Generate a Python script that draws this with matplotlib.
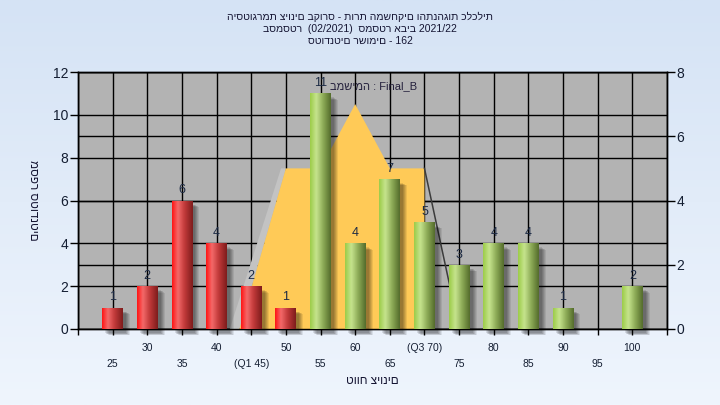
import numpy as np
import matplotlib
matplotlib.use('Agg')
import matplotlib.pyplot as plt
from matplotlib.colors import LinearSegmentedColormap
from matplotlib.transforms import blended_transform_factory
from matplotlib.patches import Rectangle
from matplotlib.ticker import FixedLocator, FixedFormatter

plt.rcParams['font.family'] = ['Liberation Sans', 'DejaVu Sans']

# ---------------- data ----------------
grades = [25, 30, 35, 40, 45, 50, 55, 60, 65, 70, 75, 80, 85, 90, 95, 100]
counts = [1, 2, 6, 4, 2, 1, 11, 4, 7, 5, 3, 4, 4, 1, 0, 2]
tick_labels = ['25', '30', '35', '40', '(Q1 45)', '50', '55', '60', '65',
               '(Q3 70)', '75', '80', '85', '90', '95', '100']
pass_grade = 55

# distribution area (secondary axis units)
area_grades = [43.3, 50, 55, 60, 65, 70, 70]
area_values = [0, 5, 5, 7, 5, 5, 0]
band_grades = [41.9, 49.3, 50, 43.3]
band_values = [0, 5, 5, 0]
tail_grades = [70, 75]
tail_values = [5, 0]

title_lines = ['היסטוגרמת ציונים בקורס - תורת המשחקים והתנהגות כלכלית',
               'בסמסטר  (02/2021)  סמסטר אביב 2021/22',
               'סטודנטים רשומים - 162']
legend_text = 'במשימה : Final_B'
x_title = 'טווח ציונים'
y_title = 'מספר סטודנטים'

# ---------------- figure ----------------
W, H = 720, 405
fig = plt.figure(figsize=(W / 100, H / 100), dpi=100)

bg = fig.add_axes([0, 0, 1, 1], zorder=-10)
bg_cmap = LinearSegmentedColormap.from_list('bg', ['#eff5fd', '#d5e3f5'])
bg.imshow(np.linspace(0, 1, 256).reshape(-1, 1)[::-1], aspect='auto',
          cmap=bg_cmap, extent=[0, 1, 0, 1])
bg.axis('off')

L, R, T, B = 78, 667, 72, 329
ax = fig.add_axes([L / W, 1 - B / H, (R - L) / W, (B - T) / H])
ax2 = ax.twinx()
ax.set_zorder(2)
ax2.set_zorder(1)
ax.patch.set_visible(False)
ax2.patch.set_visible(True)
ax2.patch.set_facecolor('#b3b3b3')

ax.set_xlim(20, 105)
ax.set_ylim(0, 12)
ax2.set_ylim(0, 8)

tick_color = '#141e32'
ax.set_yticks(range(0, 13, 2))
ax2.set_yticks(range(0, 9, 2))
ax.tick_params(axis='y', length=6, width=1, pad=1, labelsize=10, labelcolor=tick_color)
ax2.tick_params(axis='y', length=6, width=1, pad=1, labelsize=10, labelcolor=tick_color)

# x ticks: two staggered rows
bottom_row = [g for i, g in enumerate(grades) if i % 2 == 0]
bottom_lab = [t for i, t in enumerate(tick_labels) if i % 2 == 0]
top_row = [20] + [g for i, g in enumerate(grades) if i % 2 == 1] + [105]
top_lab = [''] + [t for i, t in enumerate(tick_labels) if i % 2 == 1] + ['']
ax.xaxis.set_major_locator(FixedLocator(bottom_row))
ax.xaxis.set_major_formatter(FixedFormatter(bottom_lab))
ax.xaxis.set_minor_locator(FixedLocator(top_row))
ax.xaxis.set_minor_formatter(FixedFormatter(top_lab))
ax.tick_params(axis='x', which='major', length=4, width=1, pad=17.5,
               labelsize=7.5, labelcolor=tick_color)
ax.tick_params(axis='x', which='minor', length=4, width=1, pad=6,
               labelsize=7.5, labelcolor=tick_color)

for a in (ax, ax2):
    for s in a.spines.values():
        s.set_color('black')
        s.set_linewidth(1)

ax.set_axisbelow(True)
ax.grid(axis='y', color='black', lw=1)
ax.grid(axis='x', which='both', color='black', lw=1)
ax2.grid(axis='y', color='black', lw=1)

# distribution area drawn in secondary-axis units
trans2 = blended_transform_factory(ax.transData, ax2.transData)
ax.fill(band_grades, band_values, transform=trans2, color='#c3c3c3', lw=0, zorder=1.0)
ax.fill(area_grades, area_values, transform=trans2, color='#ffca57', lw=0, zorder=1.2)
ax.plot(tail_grades, tail_values, transform=trans2, color='#3c3c3c', lw=1.1, zorder=1.3)

# bars with cylinder gradient and soft shadow
red_cmap = LinearSegmentedColormap.from_list(
    'red', [(0, '#ff1414'), (0.28, '#f46a6a'), (0.6, '#c23a3a'), (1, '#7e1c1c')])
green_cmap = LinearSegmentedColormap.from_list(
    'green', [(0, '#9ccc48'), (0.3, '#c6e48e'), (0.65, '#8aa854'), (1, '#546c2c')])
grad = np.linspace(0, 1, 64).reshape(1, -1)
bw = 3.0
px_x = (R - L) / 85.0
px_y = (B - T) / 12.0

bars = ax.bar(grades, counts, width=bw, color='none', edgecolor='none', zorder=3)
for g, c, p in zip(grades, counts, bars):
    if c == 0:
        continue
    for k, a in zip(range(5), [0.10, 0.10, 0.10, 0.09, 0.08]):
        dx = (3 + k) / px_x
        dy = (4 + k * 0.6) / px_y
        ax.add_patch(Rectangle((g - bw / 2 + dx, -dy), bw, c, facecolor='black',
                               edgecolor='none', alpha=a, zorder=2.5, clip_on=False))
    cmap = red_cmap if g < pass_grade else green_cmap
    im = ax.imshow(grad, extent=[g - bw / 2, g + bw / 2, 0, c], aspect='auto',
                   cmap=cmap, zorder=3, interpolation='bicubic')
    im.set_clip_path(p)
    ax.annotate(str(c), (g, c), xytext=(0, 3), textcoords='offset points',
                ha='center', va='bottom', fontsize=9, color='#1c2a44', zorder=5)

ax.set_xlim(20, 105)
ax.set_ylim(0, 12)

ax.text((330 - L) / (R - L), (B - 86) / (B - T), legend_text, transform=ax.transAxes,
        ha='left', va='center', fontsize=8, color='#24203c', zorder=6)

# titles
for i, line in enumerate(title_lines):
    fig.text(0.5, 1 - (17 + 12 * i) / H, line, ha='center', va='center',
             fontsize=7.5, color='#141432')
fig.text((L + R) / 2 / W, 1 - 381 / H, x_title, ha='center', va='center',
         fontsize=8.5, color='#141432')
fig.text(33 / W, 1 - 200 / H, y_title, ha='center', va='center', rotation=270,
         fontsize=8.5, color='#141432')

fig.savefig('out.png', dpi=100)
